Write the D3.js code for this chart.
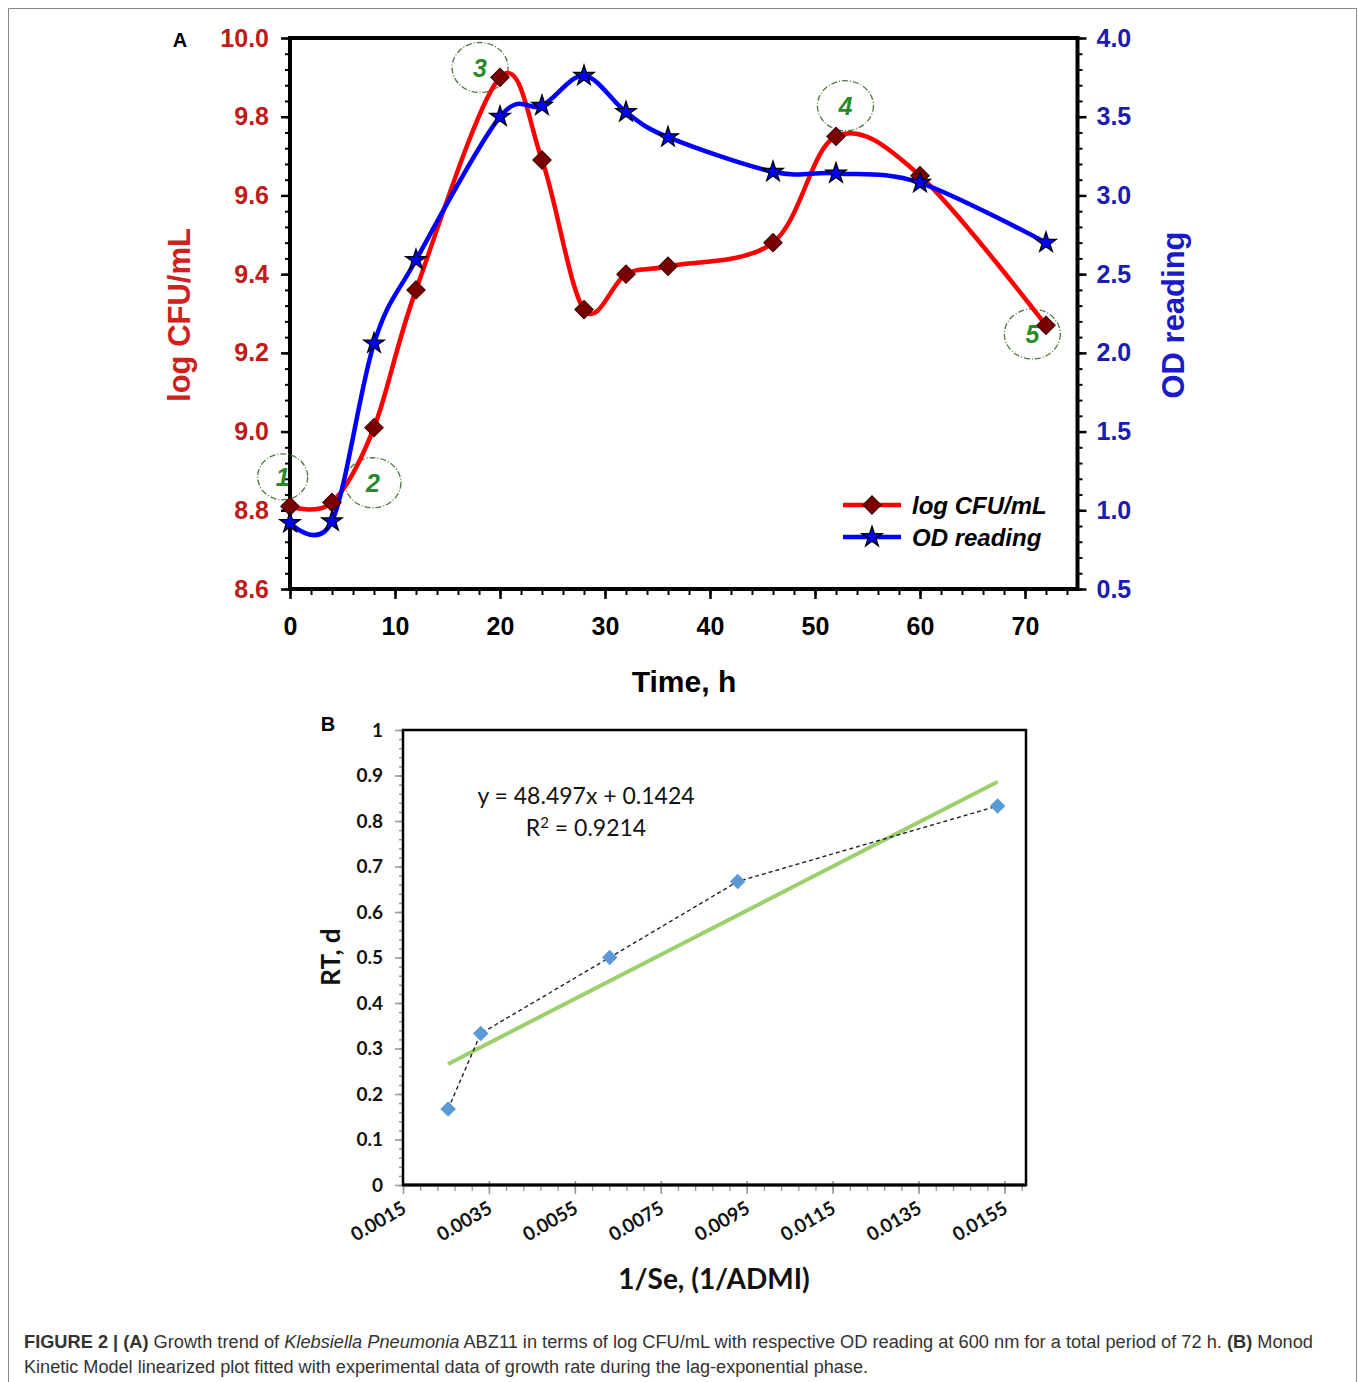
<!DOCTYPE html>
<html>
<head>
<meta charset="utf-8">
<script src="https://cdn.jsdelivr.net/npm/d3@7"></script>
<style>
  body { margin: 0; background: #fff; }
  svg { display: block; }
</style>
</head>
<body>
<svg id="fig" width="1358" height="1382"></svg>
<script>
// ---- panel A data ----
const hours = [0, 4, 8, 12, 20, 24, 28, 32, 36, 46, 52, 60, 72];
const logCFU = [8.81, 8.82, 9.01, 9.36, 9.90, 9.69, 9.31, 9.40, 9.42, 9.48, 9.75, 9.65, 9.27];
const odReading = [0.92, 0.93, 2.06, 2.59, 3.50, 3.57, 3.76, 3.53, 3.37, 3.15, 3.14, 3.08, 2.70];
const leftTicks = [8.6, 8.8, 9.0, 9.2, 9.4, 9.6, 9.8, 10.0];
const rightTicks = [0.5, 1.0, 1.5, 2.0, 2.5, 3.0, 3.5, 4.0];
const timeTicks = [0, 10, 20, 30, 40, 50, 60, 70];
// phase markers (time, log CFU/mL)
const phaseLabels = ["1", "2", "3", "4", "5"];
const phaseTime = [-0.7, 7.9, 18.1, 52.9, 70.7];
const phaseLog = [8.885, 8.87, 9.925, 9.828, 9.248];

// ---- panel B data ----
const invSe = [0.00255, 0.00331, 0.00631, 0.00929, 0.01534];
const rtDays = [0.167, 0.333, 0.5, 0.667, 0.833];
const fitSlope = 48.497, fitIntercept = 0.1424;
const bxTicks = [0.0015, 0.0035, 0.0055, 0.0075, 0.0095, 0.0115, 0.0135, 0.0155];
const byTicks = [0, 0.1, 0.2, 0.3, 0.4, 0.5, 0.6, 0.7, 0.8, 0.9, 1];

const svg = d3.select("#fig");
const FONT = "'Liberation Sans', Arial, sans-serif";
const RED_T = "#c01a1a", BLUE_T = "#1c1cb0";

// outer figure border
svg.append("path").attr("d", "M8.5,1382 V8.5 H1356.5 V1382")
  .attr("fill", "none").attr("stroke", "#888").attr("stroke-width", 1);

// ================= Panel A =================
const x = d3.scaleLinear().domain([0, 75]).range([290, 1077.5]);
const yL = d3.scaleLinear().domain([8.6, 10.0]).range([589, 38]);
const yR = d3.scaleLinear().domain([0.5, 4.0]).range([589, 38]);

const gA = svg.append("g");

// minor ticks
gA.append("g").attr("transform", "translate(290,0)")
  .call(d3.axisLeft(yL).tickValues(d3.range(0, 36).map(i => 8.6 + i * 0.04)).tickSize(5).tickFormat(""))
  .call(g => g.select(".domain").remove())
  .selectAll("line").attr("stroke-width", 2);
gA.append("g").attr("transform", "translate(1077.5,0)")
  .call(d3.axisRight(yR).tickValues(d3.range(0, 36).map(i => 0.5 + i * 0.1)).tickSize(5).tickFormat(""))
  .call(g => g.select(".domain").remove())
  .selectAll("line").attr("stroke-width", 2);
gA.append("g").attr("transform", "translate(0,589)")
  .call(d3.axisBottom(x).tickValues(d3.range(0, 38).map(i => i * 2)).tickSize(6).tickFormat(""))
  .call(g => g.select(".domain").remove())
  .selectAll("line").attr("stroke-width", 2);

// major axes
const axL = gA.append("g").attr("transform", "translate(290,0)")
  .call(d3.axisLeft(yL).tickValues(leftTicks).tickSize(9).tickPadding(12).tickFormat(d3.format(".1f")));
const axR = gA.append("g").attr("transform", "translate(1077.5,0)")
  .call(d3.axisRight(yR).tickValues(rightTicks).tickSize(9).tickPadding(10).tickFormat(d3.format(".1f")));
const axB = gA.append("g").attr("transform", "translate(0,589)")
  .call(d3.axisBottom(x).tickValues(timeTicks).tickSize(10).tickPadding(18));
[axL, axR, axB].forEach(a => {
  a.select(".domain").remove();
  a.selectAll("line").attr("stroke-width", 2.5).attr("stroke", "#000");
  a.selectAll("text").attr("font-family", FONT).attr("font-weight", "bold").attr("font-size", 25);
});
axL.selectAll("text").attr("fill", RED_T);
axR.selectAll("text").attr("fill", BLUE_T);
axB.selectAll("text").attr("fill", "#000");

// frame
gA.append("rect").attr("x", 290).attr("y", 38).attr("width", 787.5).attr("height", 551)
  .attr("fill", "none").attr("stroke", "#000").attr("stroke-width", 4);

// phase ellipses
phaseLabels.forEach((lab, i) => {
  const cx = x(phaseTime[i]), cy = yL(phaseLog[i]);
  gA.append("ellipse").attr("cx", cx).attr("cy", cy).attr("rx", i === 0 ? 25 : 28).attr("ry", i === 0 ? 23 : 25)
    .attr("fill", "none").attr("stroke", "#4d7a3a").attr("stroke-width", 1.3)
    .attr("stroke-dasharray", "6,2,1,2");
  gA.append("text").attr("x", cx).attr("y", cy + 9).attr("text-anchor", "middle")
    .attr("font-family", FONT).attr("font-size", 25).attr("font-weight", "bold").attr("font-style", "italic")
    .attr("fill", "#2a8a2a").text(lab);
});

const redLine = d3.line().x((d, i) => x(hours[i])).y(d => yL(d)).curve(d3.curveCardinal.tension(0));
const blueLine = d3.line().x((d, i) => x(hours[i])).y(d => yR(d)).curve(d3.curveCardinal.tension(0));

gA.append("path").attr("d", redLine(logCFU)).attr("fill", "none").attr("stroke", "#ff0000").attr("stroke-width", 4.5);
gA.append("path").attr("d", blueLine(odReading)).attr("fill", "none").attr("stroke", "#0000ff").attr("stroke-width", 4.5);

const diamond = d3.symbol().type(d3.symbolSquare).size(170);
const star = d3.symbol().type(d3.symbolStar).size(130);

gA.selectAll(".dia").data(logCFU).enter().append("path")
  .attr("d", diamond)
  .attr("transform", (d, i) => `translate(${x(hours[i])},${yL(d)}) rotate(45)`)
  .attr("fill", "#7a0000").attr("stroke", "#3a0000").attr("stroke-width", 1);
gA.selectAll(".star").data(odReading).enter().append("path")
  .attr("d", star)
  .attr("transform", (d, i) => `translate(${x(hours[i])},${yR(d)})`)
  .attr("fill", "#0000ff").attr("stroke", "#000").attr("stroke-width", 1.3);

// legend
const leg = gA.append("g");
[["log CFU/mL", "#ff0000", "dia", 505], ["OD reading", "#0000ff", "star", 537]].forEach(([lab, col, m, ly]) => {
  leg.append("line").attr("x1", 843).attr("x2", 901).attr("y1", ly).attr("y2", ly)
    .attr("stroke", col).attr("stroke-width", 4.5);
  if (m === "dia") {
    leg.append("path").attr("d", diamond).attr("transform", `translate(872,${ly}) rotate(45)`)
      .attr("fill", "#7a0000").attr("stroke", "#3a0000");
  } else {
    leg.append("path").attr("d", star).attr("transform", `translate(872,${ly})`)
      .attr("fill", "#0000ff").attr("stroke", "#000").attr("stroke-width", 1.3);
  }
  leg.append("text").attr("x", 912).attr("y", ly + 9).attr("font-family", FONT)
    .attr("font-size", 24).attr("font-weight", "bold").attr("font-style", "italic").attr("fill", "#000").text(lab);
});

// titles
gA.append("text").attr("x", 180).attr("y", 47).attr("text-anchor", "middle")
  .attr("font-family", FONT).attr("font-weight", "bold").attr("font-size", 20).text("A");
gA.append("text").attr("transform", "translate(190,315) rotate(-90)").attr("text-anchor", "middle")
  .attr("font-family", FONT).attr("font-weight", "bold").attr("font-size", 31).attr("fill", "#d0201c").text("log CFU/mL");
gA.append("text").attr("transform", "translate(1184,315) rotate(-90)").attr("text-anchor", "middle")
  .attr("font-family", FONT).attr("font-weight", "bold").attr("font-size", 31).attr("fill", "#1a1ac8").text("OD reading");
gA.append("text").attr("x", 684).attr("y", 692).attr("text-anchor", "middle")
  .attr("font-family", FONT).attr("font-weight", "bold").attr("font-size", 30).attr("fill", "#000").text("Time, h");

// ================= Panel B =================
const FONTB = "Lato, 'Open Sans', sans-serif";
const bx = d3.scaleLinear().domain([0.0015, 0.016]).range([403, 1026]);
const by = d3.scaleLinear().domain([0, 1]).range([1185, 730]);
const gB = svg.append("g");

// minor ticks
gB.append("g").attr("transform", "translate(403,0)")
  .call(d3.axisLeft(by).tickValues(d3.range(0, 51).map(i => i * 0.02)).tickSize(4).tickFormat(""))
  .call(g => g.select(".domain").remove())
  .selectAll("line").attr("stroke", "#999").attr("stroke-width", 1.5);
gB.append("g").attr("transform", "translate(0,1185)")
  .call(d3.axisBottom(bx).tickValues(d3.range(0, 37).map(i => 0.0015 + i * 0.0004)).tickSize(6).tickFormat(""))
  .call(g => g.select(".domain").remove())
  .selectAll("line").attr("stroke", "#999").attr("stroke-width", 1.3);

const bAxL = gB.append("g").attr("transform", "translate(403,0)")
  .call(d3.axisLeft(by).tickValues(byTicks).tickSize(8).tickPadding(12).tickFormat(d => d === 0 || d === 1 ? d : d3.format(".1f")(d)));
const bAxB = gB.append("g").attr("transform", "translate(0,1185)")
  .call(d3.axisBottom(bx).tickValues(bxTicks).tickSize(9).tickFormat(d3.format(".4f")));
[bAxL, bAxB].forEach(a => {
  a.select(".domain").remove();
  a.selectAll("line").attr("stroke", "#999").attr("stroke-width", 1.6);
  a.selectAll("text").attr("font-family", FONTB).attr("font-weight", "bold").attr("font-size", 19).attr("fill", "#111");
});
bAxB.selectAll("line").attr("y1", -4);
bAxB.selectAll("text").attr("text-anchor", "end").attr("dy", 0).attr("y", 0)
  .attr("transform", "translate(4,27) rotate(-30)");

// frame
gB.append("path").attr("d", "M403,1185 V730 H1026 V1185 Z").attr("fill", "none")
  .attr("stroke", "#000").attr("stroke-width", 2.5);
gB.append("line").attr("x1", 403).attr("x2", 1026).attr("y1", 1185).attr("y2", 1185)
  .attr("stroke", "#000").attr("stroke-width", 3);

// trend line from fitted equation
const xFit = d3.extent(invSe);
gB.append("line")
  .attr("x1", bx(xFit[0])).attr("y1", by(fitSlope * xFit[0] + fitIntercept))
  .attr("x2", bx(xFit[1])).attr("y2", by(fitSlope * xFit[1] + fitIntercept))
  .attr("stroke", "#9bd06c").attr("stroke-width", 4);

const connect = d3.line().x((d, i) => bx(invSe[i])).y(d => by(d));
gB.append("path").attr("d", connect(rtDays)).attr("fill", "none")
  .attr("stroke", "#222").attr("stroke-width", 1.4).attr("stroke-dasharray", "4,3");

const diaB = d3.symbol().type(d3.symbolSquare).size(120);
gB.selectAll(".pt").data(rtDays).enter().append("path")
  .attr("d", diaB)
  .attr("transform", (d, i) => `translate(${bx(invSe[i])},${by(d)}) rotate(45)`)
  .attr("fill", "#5b9bd5");

// equation
gB.append("text").attr("x", 586).attr("y", 804).attr("text-anchor", "middle")
  .attr("font-family", FONTB).attr("font-size", 23).attr("fill", "#111")
  .text(`y = ${fitSlope}x + ${fitIntercept}`);
const r2 = gB.append("text").attr("x", 586).attr("y", 836).attr("text-anchor", "middle")
  .attr("font-family", FONTB).attr("font-size", 23).attr("fill", "#111");
r2.append("tspan").text("R");
r2.append("tspan").attr("dy", -8).attr("font-size", 15).text("2");
r2.append("tspan").attr("dy", 8).text(" = 0.9214");

gB.append("text").attr("x", 328).attr("y", 731).attr("text-anchor", "middle")
  .attr("font-family", FONT).attr("font-weight", "bold").attr("font-size", 20).text("B");
gB.append("text").attr("transform", "translate(340,957) rotate(-90)").attr("text-anchor", "middle")
  .attr("font-family", FONTB).attr("font-weight", "bold").attr("font-size", 26).attr("fill", "#111").text("RT, d");
gB.append("text").attr("x", 714).attr("y", 1289).attr("text-anchor", "middle")
  .attr("font-family", FONTB).attr("font-weight", "bold").attr("font-size", 28).attr("fill", "#111").text("1/Se, (1/ADMI)");

// ================= caption =================
const cap1 = svg.append("text").attr("x", 24).attr("y", 1348).attr("font-family", FONT)
  .attr("font-size", 18).attr("fill", "#333").attr("textLength", 1289).attr("lengthAdjust", "spacingAndGlyphs");
cap1.append("tspan").attr("font-weight", "bold").text("FIGURE 2 | (A)");
cap1.append("tspan").text(" Growth trend of ");
cap1.append("tspan").attr("font-style", "italic").text("Klebsiella Pneumonia");
cap1.append("tspan").text(" ABZ11 in terms of log CFU/mL with respective OD reading at 600 nm for a total period of 72 h. ");
cap1.append("tspan").attr("font-weight", "bold").text("(B)");
cap1.append("tspan").text(" Monod");
svg.append("text").attr("x", 24).attr("y", 1373).attr("font-family", FONT)
  .attr("font-size", 18).attr("fill", "#333").attr("textLength", 844).attr("lengthAdjust", "spacingAndGlyphs")
  .text("Kinetic Model linearized plot fitted with experimental data of growth rate during the lag-exponential phase.");
</script>
</body>
</html>
